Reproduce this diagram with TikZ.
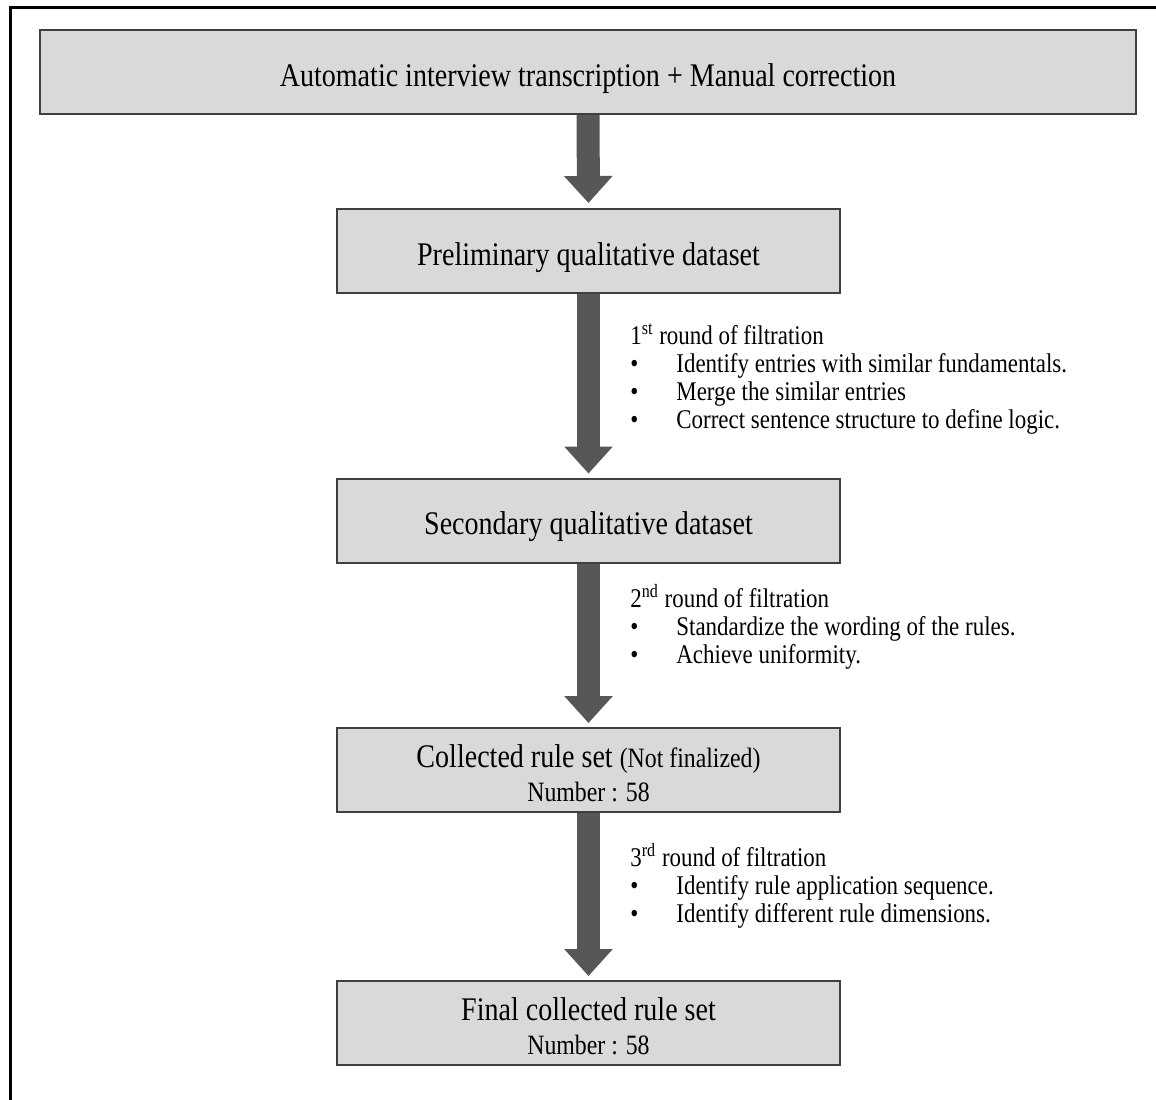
\documentclass[tikz,border=0pt]{standalone}
\usepackage{fontspec}
\setmainfont{Liberation Serif}[FakeStretch=0.85]
\usetikzlibrary{arrows.meta,positioning}
\definecolor{boxfill}{HTML}{D9D9D9}
\definecolor{boxline}{HTML}{3F3F3F}
\definecolor{arrowfill}{HTML}{575757}

\begin{document}
\begin{tikzpicture}[x=0.5pt,y=-0.5pt,
  every node/.style={font=\fontsize{16.5}{17}\selectfont},
  stage/.style={draw=boxline,fill=boxfill,line width=1pt,inner sep=0pt,
    minimum width=251.5pt,minimum height=42pt,align=center,
    text height=14pt,text depth=0pt},
  stage2/.style={stage,text height=31.5pt},
  note/.style={anchor=north west,inner sep=0pt,align=left,
    font=\fontsize{13.5}{14}\selectfont},
  flow/.style={draw=arrowfill,line width=11.5pt,
    -{Triangle[width=23.5pt,length=13.5pt]}}]
\useasboundingbox (0,0) rectangle (1156,1099);
% frame, only top and left show
\draw[line width=1.5pt] (10,1110) -- (10,7) -- (1170,7);
% stages
\node[stage,minimum width=548pt] (b1) at (588,72) {Automatic interview transcription + Manual correction};
\node[stage] (b2) at (588.5,251) {Preliminary qualitative dataset};
\node[stage] (b3) at (588.5,520.5) {Secondary qualitative dataset};
\node[stage2] (b4) at (588.5,770) {Collected rule set {\fontsize{14}{17}\selectfont(Not finalized)}\\{\fontsize{14}{17}\selectfont Number : 58}};
\node[stage2] (b5) at (588.5,1023) {Final collected rule set\\{\fontsize{14}{17}\selectfont Number : 58}};
% arrows
\draw[flow] (b1.south) -- ([yshift=2.5pt]b2.north);
\draw[flow] (b2.south) -- ([yshift=2pt]b3.north);
\draw[flow] (b3.south) -- ([yshift=2pt]b4.north);
\draw[flow] (b4.south) -- ([yshift=2pt]b5.north);
% filtration rounds
\node[note] (f1) at (630,323) {1\textsuperscript{st} round of filtration\\
  \makebox[23pt][l]{\textbullet}Identify entries with similar fundamentals.\\
  \makebox[23pt][l]{\textbullet}Merge the similar entries\\
  \makebox[23pt][l]{\textbullet}Correct sentence structure to define logic.};
\node[note] (f2) at (630,584) {2\textsuperscript{nd} round of filtration\\
  \makebox[23pt][l]{\textbullet}Standardize the wording of the rules.\\
  \makebox[23pt][l]{\textbullet}Achieve uniformity.};
\node[note] (f3) at (630,843) {3\textsuperscript{rd} round of filtration\\
  \makebox[23pt][l]{\textbullet}Identify rule application sequence.\\
  \makebox[23pt][l]{\textbullet}Identify different rule dimensions.};
\end{tikzpicture}
\end{document}
